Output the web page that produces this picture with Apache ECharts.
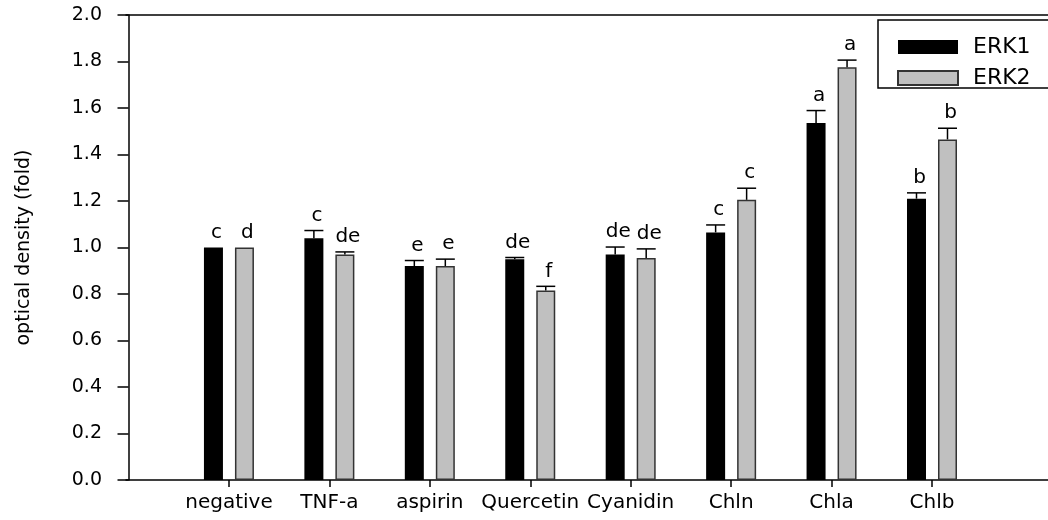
<!DOCTYPE html>
<html>
<head>
<meta charset="utf-8">
<script src="https://cdn.jsdelivr.net/npm/echarts@6/dist/echarts.min.js"></script>
<style>html,body{margin:0;padding:0;background:#fff;}#c{width:1048px;height:520px;}</style>
</head>
<body>
<div id="c"></div>
<script>
// ---- data ----
const categories = ['negative', 'TNF-a', 'aspirin', 'Quercetin', 'Cyanidin', 'Chln', 'Chla', 'Chlb'];
const erk1 = [1.00, 1.04, 0.92, 0.95, 0.97, 1.065, 1.535, 1.21];
const erk1Err = [0, 0.033, 0.024, 0.007, 0.032, 0.032, 0.054, 0.025];
const erk1Letters = ['c', 'c', 'e', 'de', 'de', 'c', 'a', 'b'];
const erk2 = [1.00, 0.97, 0.92, 0.815, 0.955, 1.205, 1.775, 1.465];
const erk2Err = [0, 0.011, 0.03, 0.018, 0.039, 0.05, 0.031, 0.048];
const erk2Letters = ['d', 'de', 'e', 'f', 'de', 'c', 'a', 'b'];
const yTicks = [0, 0.2, 0.4, 0.6, 0.8, 1.0, 1.2, 1.4, 1.6, 1.8, 2.0];

// category positions 1..N on a numeric axis (one empty slot before, extra room after)
const catPos = categories.map((c, i) => i + 1);
const X_MIN = -0.025, X_MAX = 9.155;

const FONT = 'DejaVu Sans';
const BAR_W = 19, BAR_GAP = 12;
const OFF = (BAR_W + BAR_GAP) / 2;

function errData(vals, errs, sign) {
  return vals.map((v, i) => [catPos[i], v, errs[i], sign]);
}

function makeRender(letters) {
  return function (params, api) {
    const idx = api.value(0), v = api.value(1), e = api.value(2), sign = api.value(3);
    const top = api.coord([idx, v]);
    const cap = api.coord([idx, v + e]);
    const x = top[0] + sign * OFF;
    const children = [];
    if (e > 0) {
      children.push({type: 'line', shape: {x1: x, y1: top[1], x2: x, y2: cap[1]}, style: {stroke: '#000', lineWidth: 1.5}});
      children.push({type: 'line', shape: {x1: x - BAR_W / 2, y1: cap[1], x2: x + BAR_W / 2, y2: cap[1]}, style: {stroke: '#000', lineWidth: 1.5}});
    }
    children.push({
      type: 'text',
      style: {text: letters[params.dataIndex], x: x + 3, y: cap[1] - 5, align: 'center', verticalAlign: 'bottom',
        fontFamily: FONT, fontSize: 20, fill: '#000'}
    });
    return {type: 'group', children: children};
  };
}

const chart = echarts.init(document.getElementById('c'), null, {renderer: 'canvas'});
chart.setOption({
  animation: false,
  backgroundColor: '#fff',
  grid: {left: 126, top: 15, bottom: 40, right: 0},
  graphic: [{
    type: 'rect', z: 10,
    shape: {x: 878, y: 20, width: 220, height: 68},
    style: {fill: 'transparent', stroke: '#000', lineWidth: 1.5}
  }],
  legend: {
    orient: 'vertical', left: 878, top: 20,
    padding: [16, 40, 16, 19],
    itemWidth: 60, itemHeight: 14, itemGap: 9, icon: 'rect',
    textStyle: {fontFamily: FONT, fontSize: 22, color: '#000', lineHeight: 14, padding: [0, 0, 0, 10]},
    data: ['ERK1', 'ERK2']
  },
  xAxis: [{
    type: 'value', min: X_MIN, max: X_MAX,
    axisLine: {show: true, onZero: false, lineStyle: {color: '#000', width: 1.5}},
    axisTick: {show: true, length: 7, customValues: catPos, lineStyle: {color: '#000', width: 1.5}},
    axisLabel: {customValues: catPos, margin: 13, fontFamily: FONT, fontSize: 20, color: '#000',
      formatter: v => categories[Math.round(v) - 1] || ''},
    splitLine: {show: false}
  }, {
    type: 'value', position: 'top', min: X_MIN, max: X_MAX,
    axisLine: {show: true, onZero: false, lineStyle: {color: '#000', width: 1.5}},
    axisTick: {show: false}, axisLabel: {show: false}, splitLine: {show: false}
  }],
  yAxis: {
    type: 'value', min: yTicks[0], max: yTicks[yTicks.length - 1], interval: 0.2,
    name: 'optical density (fold)', nameLocation: 'middle', nameRotate: 90, nameGap: 92,
    nameTextStyle: {fontFamily: FONT, fontSize: 19, color: '#000'},
    axisLine: {show: true, lineStyle: {color: '#000', width: 1.5}},
    axisTick: {show: true, length: 11, lineStyle: {color: '#000', width: 1.5}},
    axisLabel: {margin: 24, fontFamily: FONT, fontSize: 19, color: '#000', formatter: v => v.toFixed(1)},
    splitLine: {show: false}
  },
  series: [
    {name: 'ERK1', type: 'bar', barWidth: BAR_W, barGap: (BAR_GAP / BAR_W * 100) + '%',
      itemStyle: {color: '#000'}, data: erk1.map((v, i) => [catPos[i], v])},
    {name: 'ERK2', type: 'bar', barWidth: BAR_W,
      itemStyle: {color: '#c0c0c0', borderColor: '#333', borderWidth: 1.5}, data: erk2.map((v, i) => [catPos[i], v])},
    {type: 'custom', renderItem: makeRender(erk1Letters), data: errData(erk1, erk1Err, -1), z: 5, silent: true},
    {type: 'custom', renderItem: makeRender(erk2Letters), data: errData(erk2, erk2Err, 1), z: 5, silent: true}
  ]
});
</script>
</body>
</html>
